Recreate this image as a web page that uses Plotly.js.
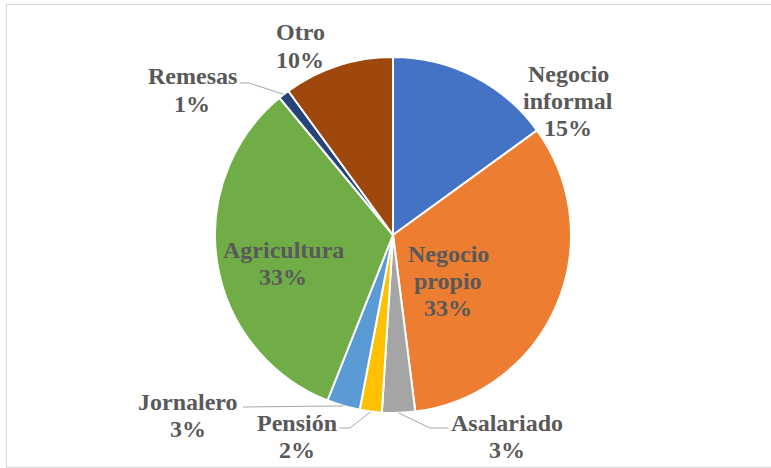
<!DOCTYPE html>
<html><head><meta charset="utf-8">
<script src="https://cdn.plot.ly/plotly-3.0.1.min.js"></script>
<style>
html,body{margin:0;padding:0;background:#fff;overflow:hidden;}
#frame{position:absolute;left:6px;top:4px;width:780px;height:464px;border:1px solid #d9d9d9;box-sizing:border-box;}
#chart{position:absolute;left:0;top:0;width:771px;height:468px;}
</style></head><body>
<div id="frame"></div><div id="chart"></div>
<script>
// ---- data ----
const categories = ["Negocio informal","Negocio propio","Asalariado","Pensión","Jornalero","Agricultura","Remesas","Otro"];
const values = [15, 33, 3, 2, 3, 33, 1, 10];
const colors = ["#4472C4","#ED7D31","#A5A5A5","#FFC000","#5B9BD5","#70AD47","#264478","#9E480E"];

// ---- layout constants (pixels) ----
const W = 771, H = 468, CX = 393, CY = 235, R = 178;
const labelPos = [[568,101],[448,281],[507,436],[297,436],[188,415],[283,263],[192,90],[300,46]];
const leaderFrom = [null, null, [[448,428],[430,428]], [[340,428],[350,428]], [[243,407]], null, [[240,83],[249,83]], null];
const LINE = 27, FONT = 24, TXT = "#595959";

const px = x => x / W, py = y => 1 - y / H;
const total = values.reduce((a, b) => a + b, 0);

const annotations = [];
const shapes = [];
let cum = 0;
values.forEach((v, i) => {
  const pct = Math.round(v / total * 100) + "%";
  const lines = categories[i].split(" ").concat([pct]);
  const [lx, ly] = labelPos[i];
  lines.forEach((t, k) => {
    annotations.push({
      x: px(lx), y: py(ly + (k - (lines.length - 1) / 2) * LINE),
      xref: "paper", yref: "paper", xanchor: "center", yanchor: "middle",
      text: t, showarrow: false,
      font: {family: "Liberation Serif", size: FONT, color: TXT, weight: "bold"}
    });
  });
  const mid = (cum + v / 2) / total * 2 * Math.PI;
  cum += v;
  if (leaderFrom[i]) {
    const ex = CX + R * Math.sin(mid), ey = CY - R * Math.cos(mid);
    const pts = leaderFrom[i].concat([[ex, ey]]);
    const path = pts.map((p, k) => (k ? "L" : "M") + px(p[0]) + "," + py(p[1])).join(" ");
    shapes.push({type: "path", xref: "paper", yref: "paper", path: path,
      line: {color: "#A6A6A6", width: 1}, layer: "above"});
  }
});

const trace = {
  type: "pie", values: values, labels: categories, sort: false,
  direction: "clockwise", rotation: 0, textinfo: "none", hoverinfo: "skip",
  marker: {colors: colors, line: {color: "#FFFFFF", width: 2}},
  domain: {x: [px(CX - R), px(CX + R)], y: [py(CY + R), py(CY - R)]},
  showlegend: false
};

Plotly.newPlot("chart", [trace], {
  width: W, height: H, margin: {l: 0, r: 0, t: 0, b: 0},
  paper_bgcolor: "rgba(0,0,0,0)", plot_bgcolor: "rgba(0,0,0,0)",
  font: {family: "Liberation Serif"},
  showlegend: false, annotations: annotations, shapes: shapes
}, {displayModeBar: false, staticPlot: true});
</script>
</body></html>
